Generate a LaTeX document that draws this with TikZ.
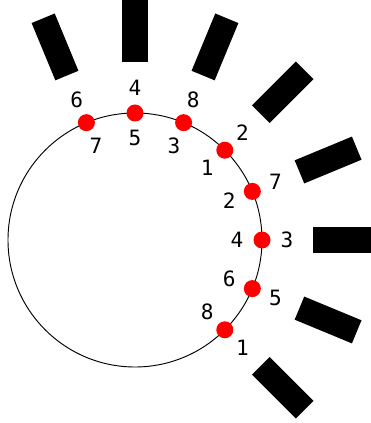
\documentclass[tikz,border=0pt]{standalone}
\usepackage{fontspec}
\newfontfamily\digitfont{DejaVu Sans Mono}
\usetikzlibrary{positioning, calc}

\begin{document}
\begin{tikzpicture}[x=0.03cm, y=0.03cm,
    dot/.style={circle, fill=red, inner sep=0pt, minimum size=0.51cm},
    bar/.style={fill=black, inner sep=0pt, minimum width=1.86cm, minimum height=0.75cm},
    num/.style={font=\digitfont\fontsize{18}{20}\selectfont, inner sep=0pt}]
    \clip (-135,-183) rectangle (236,240);
    \draw[line width=0.8pt] (0,0) circle (127);
    \foreach \a/\o/\i [count=\k] in {112.5/6/7, 90/4/5, 67.5/8/3, 45/2/1, 22.5/7/2, 0/3/4, -22.5/5/6, -45/1/8} {
        \node[bar, rotate=\a] (b\k) at (\a:209) {};
        \node[dot] (d\k) at (\a:127) {};
        \node[num] (o\k) at (\a:152) {\o};
        \node[num] (i\k) at (\a:102) {\i};
    }
\end{tikzpicture}
\end{document}
